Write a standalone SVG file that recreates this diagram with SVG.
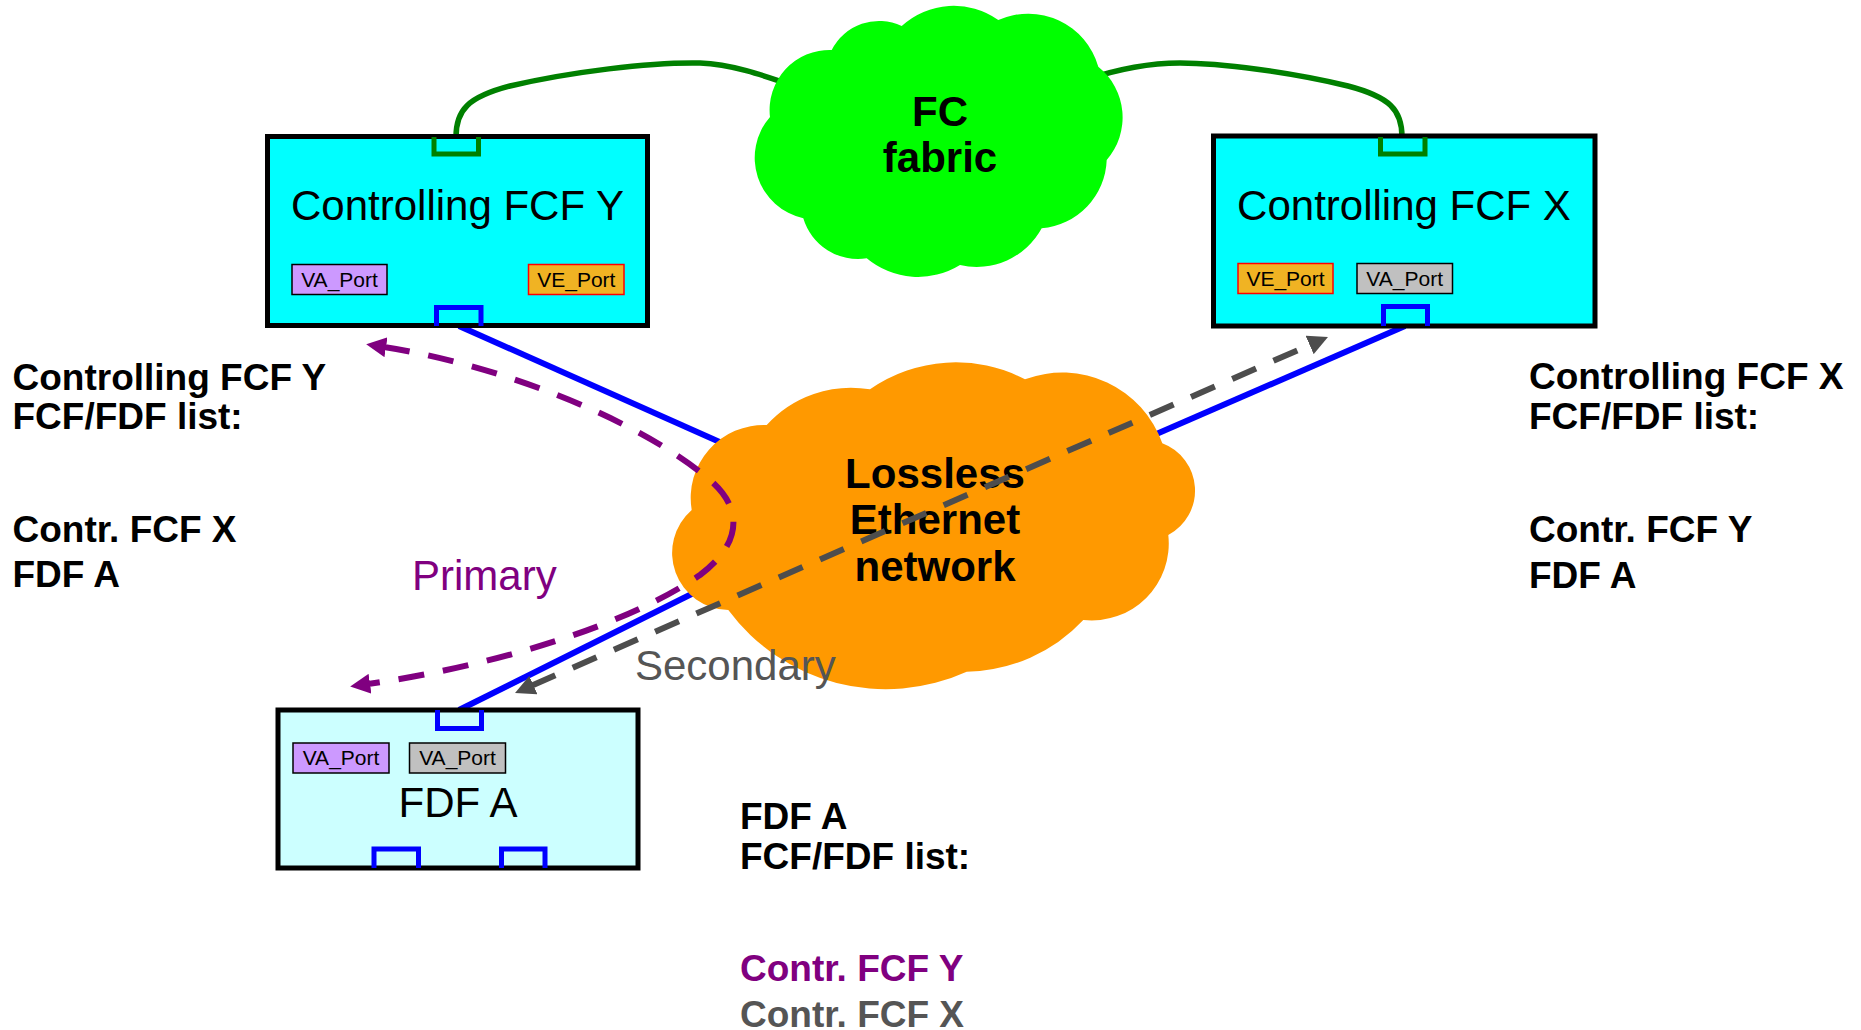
<svg xmlns="http://www.w3.org/2000/svg" width="1861" height="1030" viewBox="0 0 1861 1030">
<style>
.lbl{font-family:"Liberation Sans",Arial,sans-serif;font-weight:bold;font-size:37px;fill:#000}
.cloudtxt{font-family:"Liberation Sans",Arial,sans-serif;font-weight:bold;font-size:42px;fill:#000;text-anchor:middle}
.boxtxt{font-family:"Liberation Sans",Arial,sans-serif;font-size:42px;fill:#000;text-anchor:middle}
.port{font-family:"Liberation Sans",Arial,sans-serif;font-size:21px;fill:#000;text-anchor:middle}
.box{stroke:#000;stroke-width:5}
.gport{fill:none;stroke:#008000;stroke-width:5}
.bport{fill:none;stroke:#0000ff;stroke-width:5}
.va{fill:#cc99ff;stroke:#000;stroke-width:1.5}
.vag{fill:#c0c0c0;stroke:#000;stroke-width:1.5}
.ve{fill:#f0b323;stroke:#ff0000;stroke-width:1.5}
.blue{stroke:#0000ff;stroke-width:6;fill:none}
.green{stroke:#008000;stroke-width:5.5;fill:none}
.dashP{stroke:#800080;stroke-width:6;fill:none;stroke-dasharray:26 19}
.dashG{stroke:#4d4d4d;stroke-width:6;fill:none;stroke-dasharray:26 19}
</style>
<defs>
<marker id="ahP" viewBox="0 0 20 20" refX="2" refY="10" markerWidth="20" markerHeight="20" markerUnits="userSpaceOnUse" orient="auto-start-reverse"><path d="M0,0 L20,10 L0,20 z" fill="#800080"/></marker>
<marker id="ahG" viewBox="0 0 20 20" refX="2" refY="10" markerWidth="20" markerHeight="20" markerUnits="userSpaceOnUse" orient="auto-start-reverse"><path d="M0,0 L20,10 L0,20 z" fill="#4d4d4d"/></marker>
</defs>

<g id="links-under">
<path class="green" d="M456,137 C456,110 468,97 510,86 C570,72 650,62 700,63 C730,64 760,74 800,88"/>
<path class="green" d="M1402,137 C1402,110 1390,97 1348,86 C1290,72 1220,63 1180,63 C1150,63 1115,70 1085,80"/>
<line class="blue" x1="459" y1="326" x2="850" y2="500"/>
<line class="blue" x1="459" y1="710" x2="800" y2="540"/>
<line class="blue" x1="1405" y1="326" x2="1000" y2="502"/>
</g>

<g id="fc-fabric">
<path fill="#00ff00" d="M770,117 A60,60 0 0 1 831.7,50 A53,53 0 0 1 901.7,26 A77,77 0 0 1 998.3,20 A73,73 0 0 1 1098.3,66.7 A65,65 0 0 1 1106.7,160 A71,71 0 0 1 1041.7,228.3 A74,74 0 0 1 960,265 A80,80 0 0 1 866.7,258.3 A57,57 0 0 1 803.3,218.3 A62,62 0 0 1 770,117 Z"/>
<text class="cloudtxt" x="940" y="126">FC</text>
<text class="cloudtxt" x="940" y="172">fabric</text>
</g>

<g id="ethernet">
<path fill="#ff9900" d="M766.7,425 A114,114 0 0 1 870,389.3 A150,150 0 0 1 1025,379.3 A106,106 0 0 1 1162.3,443.3 A50.4,50.4 0 0 1 1168.3,535 A77,77 0 0 1 1083.3,620 A163,163 0 0 1 966.7,671.7 A196,196 0 0 1 728.3,610 A57,57 0 0 1 691.7,510 A73,73 0 0 1 766.7,425 Z"/>
<text class="cloudtxt" x="935" y="488">Lossless</text>
<text class="cloudtxt" x="935" y="534">Ethernet</text>
<text class="cloudtxt" x="935" y="581">network</text>
</g>

<g id="fcf-y">
<rect class="box" x="267.5" y="136.5" width="380" height="189" fill="#00ffff"/>
<path class="gport" d="M434,137 V154 H478.5 V137"/>
<path class="bport" d="M436.5,326 V307.5 H481 V326"/>
<text class="boxtxt" x="457.5" y="220">Controlling FCF Y</text>
<rect class="va" x="292" y="264.5" width="95" height="30"/>
<text class="port" x="339.5" y="287">VA_Port</text>
<rect class="ve" x="528.5" y="264.5" width="95.5" height="30"/>
<text class="port" x="576.3" y="287">VE_Port</text>
</g>

<g id="fcf-x">
<rect class="box" x="1213.5" y="136" width="381.5" height="190" fill="#00ffff"/>
<path class="gport" d="M1380.5,137 V154 H1425 V137"/>
<path class="bport" d="M1383.5,326 V306.5 H1427.5 V326"/>
<text class="boxtxt" x="1404" y="220">Controlling FCF X</text>
<rect class="ve" x="1238" y="263.5" width="95" height="30"/>
<text class="port" x="1285.5" y="286">VE_Port</text>
<rect class="vag" x="1357" y="263.5" width="95.5" height="30"/>
<text class="port" x="1404.7" y="286">VA_Port</text>
</g>

<g id="fdf-a">
<rect class="box" x="278" y="710" width="360" height="158" fill="#ccffff"/>
<path class="bport" d="M437.5,710 V728.5 H481.5 V710"/>
<path class="bport" d="M374,868 V849 H418.5 V868"/>
<path class="bport" d="M501.5,868 V849 H545 V868"/>
<rect class="va" x="293" y="743" width="96" height="30"/>
<text class="port" x="341" y="765">VA_Port</text>
<rect class="vag" x="409.5" y="743" width="96" height="30"/>
<text class="port" x="457.5" y="765">VA_Port</text>
<text class="boxtxt" x="458" y="817">FDF A</text>
</g>

<g id="paths">
<path class="dashP" marker-start="url(#ahP)" marker-end="url(#ahP)" d="M384,347 C500,365 640,420 710,480 C745,510 740,545 700,575 C620,630 480,668 368,684"/>
<line class="dashG" marker-start="url(#ahG)" marker-end="url(#ahG)" x1="531.5" y1="685.8" x2="1311.5" y2="344.2"/>
<text x="412" y="590" font-family="Liberation Sans, Arial, sans-serif" font-size="42" fill="#800080">Primary</text>
<text x="635" y="680" font-family="Liberation Sans, Arial, sans-serif" font-size="42" fill="#555555">Secondary</text>
</g>

<g id="list-y">
<text class="lbl" x="12.5" y="390">Controlling FCF Y</text>
<text class="lbl" x="12.5" y="429">FCF/FDF list:</text>
<text class="lbl" x="12.5" y="542">Contr. FCF X</text>
<text class="lbl" x="12.5" y="587">FDF A</text>
</g>

<g id="list-x">
<text class="lbl" x="1529" y="389">Controlling FCF X</text>
<text class="lbl" x="1529" y="429">FCF/FDF list:</text>
<text class="lbl" x="1529" y="542">Contr. FCF Y</text>
<text class="lbl" x="1529" y="588">FDF A</text>
</g>

<g id="list-a">
<text class="lbl" x="740" y="829">FDF A</text>
<text class="lbl" x="740" y="869">FCF/FDF list:</text>
<text class="lbl" x="740" y="981" style="fill:#800080">Contr. FCF Y</text>
<text class="lbl" x="740" y="1027" style="fill:#555555">Contr. FCF X</text>
</g>
</svg>
